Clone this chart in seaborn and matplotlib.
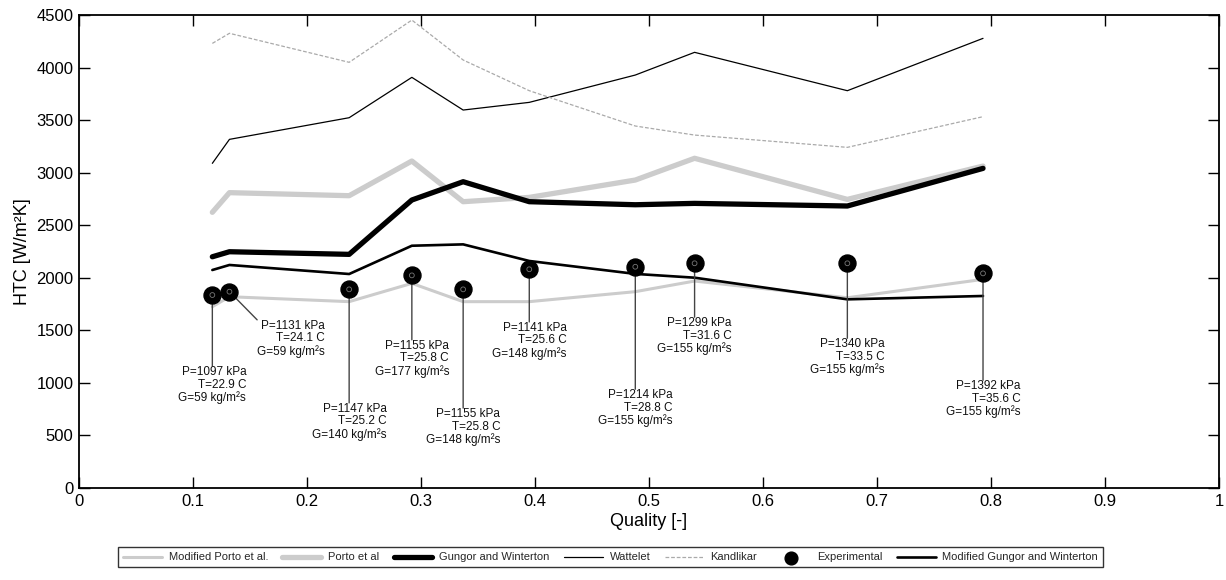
import matplotlib
matplotlib.use("Agg")
import matplotlib.pyplot as plt
import seaborn as sns
import pandas as pd

# vapour quality of each test point
quality = [0.117, 0.132, 0.237, 0.292, 0.337, 0.395, 0.488, 0.540, 0.674, 0.793]

# heat transfer coefficients [W/m2K]
htc_experimental = [1836, 1868, 1890, 2023, 1890, 2081, 2105, 2138, 2138, 2042]
htc_mod_porto = [1725, 1820, 1773, 1947, 1773, 1773, 1868, 1969, 1810, 1985]
htc_porto = [2623, 2810, 2781, 3111, 2724, 2765, 2930, 3137, 2746, 3063]
htc_gungor = [2200, 2248, 2223, 2740, 2914, 2724, 2695, 2708, 2683, 3041]
htc_wattelet = [3089, 3317, 3523, 3907, 3596, 3669, 3929, 4145, 3780, 4278]
htc_kandlikar = [4230, 4326, 4050, 4452, 4072, 3780, 3444, 3358, 3241, 3533]
htc_mod_gungor = [2074, 2122, 2036, 2305, 2318, 2160, 2037, 2001, 1795, 1827]

# test conditions
pressure_kpa = [1097, 1131, 1147, 1155, 1155, 1141, 1214, 1299, 1340, 1392]
temperature_c = [22.9, 24.1, 25.2, 25.8, 25.8, 25.6, 28.8, 31.6, 33.5, 35.6]
mass_flux = [59, 59, 140, 177, 148, 148, 155, 155, 155, 155]

x_ticks = [0, 0.1, 0.2, 0.3, 0.4, 0.5, 0.6, 0.7, 0.8, 0.9, 1]
x_tick_labels = ["0", "0.1", "0.2", "0.3", "0.4", "0.5", "0.6", "0.7", "0.8", "0.9", "1"]
y_ticks = [0, 500, 1000, 1500, 2000, 2500, 3000, 3500, 4000, 4500]

# where each annotation text sits (quality, HTC of text top)
label_x = [0.117, 0.186, 0.237, 0.292, 0.337, 0.395, 0.488, 0.540, 0.674, 0.793]
label_y = [1160, 1600, 810, 1410, 760, 1580, 940, 1625, 1425, 1025]

sns.set_theme(style="ticks")
plt.rcParams["font.family"] = ["Liberation Sans", "DejaVu Sans"]
plt.rcParams["axes.labelcolor"] = "black"

df = pd.DataFrame({
    "quality": quality,
    "exp": htc_experimental,
    "mod_porto": htc_mod_porto,
    "porto": htc_porto,
    "gungor": htc_gungor,
    "wattelet": htc_wattelet,
    "kandlikar": htc_kandlikar,
    "mod_gungor": htc_mod_gungor,
})

fig = plt.figure(figsize=(12.26, 5.8), dpi=100)
ax = fig.add_axes([0.0644, 0.1586, 0.9299, 0.8155])

sns.lineplot(data=df, x="quality", y="mod_porto", ax=ax, color="#cccccc",
             linewidth=2.2, label="Modified Porto et al.", zorder=2)
sns.lineplot(data=df, x="quality", y="porto", ax=ax, color="#cccccc",
             linewidth=3.8, label="Porto et al", zorder=2)
sns.lineplot(data=df, x="quality", y="gungor", ax=ax, color="black",
             linewidth=3.8, label="Gungor and Winterton", zorder=3)
sns.lineplot(data=df, x="quality", y="wattelet", ax=ax, color="black",
             linewidth=0.9, label="Wattelet", zorder=3)
sns.lineplot(data=df, x="quality", y="kandlikar", ax=ax, color="#aaaaaa",
             linewidth=0.9, linestyle=(0, (3, 1.5)), label="Kandlikar", zorder=3)
sns.scatterplot(data=df, x="quality", y="exp", ax=ax, color="black",
                edgecolor="black", s=150, marker="o", label="Experimental", zorder=6)
sns.lineplot(data=df, x="quality", y="mod_gungor", ax=ax, color="black",
             linewidth=1.9, label="Modified Gungor and Winterton", zorder=4)
# small grey ring inside each experimental marker
sns.scatterplot(data=df, x="quality", y="exp", ax=ax, facecolor="none",
                edgecolor="#777777", linewidth=0.6, s=12, marker="o",
                legend=False, zorder=7)

for i in range(len(quality)):
    txt = f"P={pressure_kpa[i]} kPa\nT={temperature_c[i]} C\nG={mass_flux[i]} kg/m²s"
    rel = (0.0, 1.0) if label_x[i] != quality[i] else (0.5, 1.0)
    ax.annotate(txt, xy=(quality[i], htc_experimental[i]),
                xytext=(label_x[i], label_y[i]),
                ha="center", va="top", multialignment="right",
                fontsize=8.5, linespacing=1.05, color="#111111",
                arrowprops=dict(arrowstyle="-", color="#444444", lw=1.0,
                                shrinkA=0, shrinkB=0, patchA=None, relpos=rel),
                zorder=5)

ax.set_xlim(0, 1)
ax.set_ylim(0, 4500)
ax.set_xticks(x_ticks)
ax.set_xticklabels(x_tick_labels)
ax.set_yticks(y_ticks)
ax.tick_params(axis="both", which="both", direction="in", length=8, width=1,
               labelsize=12, top=True, right=True, colors="black", pad=4)
for sp in ax.spines.values():
    sp.set_visible(True)
    sp.set_color("black")
    sp.set_linewidth(1.3)
ax.set_xlabel("Quality [-]", fontsize=13, labelpad=3, color="black")
ax.set_ylabel("HTC [W/m²K]", fontsize=13, labelpad=4, color="black")
ax.grid(False)

handles, labels = ax.get_legend_handles_labels()
if ax.get_legend() is not None:
    ax.get_legend().remove()
leg = fig.legend(handles, labels, loc="lower center", bbox_to_anchor=(0.498, 0.012),
                 ncol=7, fontsize=8, frameon=True, fancybox=False,
                 edgecolor="black", handlelength=3.5, columnspacing=1.3,
                 handletextpad=0.6, borderpad=0.45, markerscale=0.75)
leg.get_frame().set_linewidth(1.0)

fig.savefig("out.png", dpi=100, facecolor="white")
